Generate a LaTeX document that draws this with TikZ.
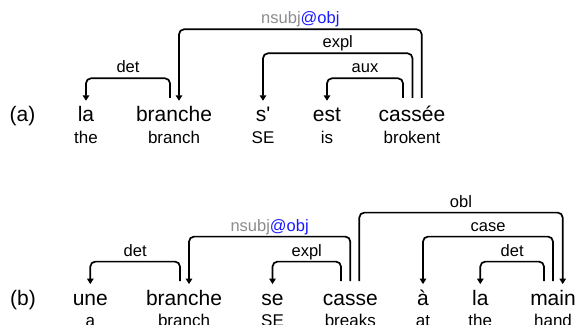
\documentclass[tikz,border=0pt]{standalone}
\usepackage{fontspec}
\setmainfont{Liberation Sans}[Ligatures=TeXOff]
\usetikzlibrary{arrows.meta}
\definecolor{lgray}{RGB}{140,140,140}
\definecolor{lblue}{RGB}{25,25,255}
\begin{document}
\begin{tikzpicture}[x=1pt,y=-1pt,
 word/.style={font=\fontsize{21pt}{21pt}\selectfont, anchor=base, inner xsep=0pt, inner ysep=8.7pt, text height=15pt, text depth=4pt},
 gloss/.style={font=\fontsize{17pt}{17pt}\selectfont, anchor=base, inner sep=0pt},
 lab/.style={font=\fontsize{16.5pt}{16.5pt}\selectfont, anchor=base, inner sep=0pt, yshift=5.5pt},
 dep/.style={line width=1.7pt, rounded corners=5pt, -{Triangle[length=5.5pt,width=6.5pt]}}]
\useasboundingbox (0,0) rectangle (577,324);
% ---------- (a)
\node[word] (pa) at (22.5,121.7) {(a)};
\node[word] (a1) at (86,121.7) {la};
\node[word] (a2) at (174,121.7) {branche};
\node[word] (a3) at (263,121.7) {s'};
\node[word] (a4) at (327,121.7) {est};
\node[word] (a5) at (412,121.7) {cassée};
\node[gloss] (ga1) at (86,143) {the};
\node[gloss] (ga2) at (174,143) {branch};
\node[gloss] (ga3) at (263,143) {SE};
\node[gloss] (ga4) at (327,143) {is};
\node[gloss] (ga5) at (412,143) {brokent};
\coordinate (a2t) at ([xshift=-4pt]a2.north);
\coordinate (a2h) at ([xshift=5pt,yshift=-3pt]a2.north);
\coordinate (a1h) at ([yshift=-3pt]a1.north);
\coordinate (a3h) at ([yshift=-3pt]a3.north);
\coordinate (a4h) at ([yshift=-3pt]a4.north);
\coordinate (a5t1) at ([xshift=-9pt]a5.north);
\coordinate (a5t2) at ([xshift=0.5pt]a5.north);
\coordinate (a5t3) at ([xshift=9.7pt]a5.north);
\draw[dep] (a2t) -- (a2t |- 0,78.3) -- node[lab]{det} (a1h |- 0,78.3) -- (a1h);
\draw[dep] (a5t1) -- (a5t1 |- 0,78.3) -- node[lab]{aux} (a4h |- 0,78.3) -- (a4h);
\draw[dep] (a5t2) -- (a5t2 |- 0,53.3) -- node[lab]{expl} (a3h |- 0,53.3) -- (a3h);
\draw[dep] (a5t3) -- (a5t3 |- 0,29.3) -- node[lab]{\textcolor{lgray}{nsubj}\textcolor{lblue}{@obj}} (a2h |- 0,29.3) -- (a2h);
% ---------- (b)
\node[word] (pb) at (23,305) {(b)};
\node[word] (b1) at (90.3,305) {une};
\node[word] (b2) at (184,305) {branche};
\node[word] (b3) at (272.5,305) {se};
\node[word] (b4) at (350.3,305) {casse};
\node[word] (b5) at (423,305) {à};
\node[word] (b6) at (480.3,305) {la};
\node[word] (b7) at (553,305) {main};
\node[gloss] (gb1) at (90.3,326.3) {a};
\node[gloss] (gb2) at (184,326.3) {branch};
\node[gloss] (gb3) at (272.5,326.3) {SE};
\node[gloss] (gb4) at (350.3,326.3) {breaks};
\node[gloss] (gb5) at (423,326.3) {at};
\node[gloss] (gb6) at (480.3,326.3) {the};
\node[gloss] (gb7) at (553,326.3) {hand};
\coordinate (b2t) at ([xshift=-4pt]b2.north);
\coordinate (b2h) at ([xshift=5pt,yshift=-3pt]b2.north);
\coordinate (b1h) at ([yshift=-3pt]b1.north);
\coordinate (b3h) at ([yshift=-3pt]b3.north);
\coordinate (b4t1) at ([xshift=-9.3pt]b4.north);
\coordinate (b4t2) at ([xshift=0pt]b4.north);
\coordinate (b4t3) at ([xshift=9pt]b4.north);
\coordinate (b5h) at ([yshift=-3pt]b5.north);
\coordinate (b6h) at ([yshift=-3pt]b6.north);
\coordinate (b7t1) at ([xshift=-9pt]b7.north);
\coordinate (b7t2) at ([xshift=0pt]b7.north);
\coordinate (b7h) at ([xshift=9.7pt,yshift=-3pt]b7.north);
\draw[dep] (b2t) -- (b2t |- 0,261.6) -- node[lab]{det} (b1h |- 0,261.6) -- (b1h);
\draw[dep] (b4t1) -- (b4t1 |- 0,261.6) -- node[lab]{expl} (b3h |- 0,261.6) -- (b3h);
\draw[dep] (b4t2) -- (b4t2 |- 0,236.6) -- node[lab]{\textcolor{lgray}{nsubj}\textcolor{lblue}{@obj}} (b2h |- 0,236.6) -- (b2h);
\draw[dep] (b4t3) -- (b4t3 |- 0,212.6) -- node[lab]{obl} (b7h |- 0,212.6) -- (b7h);
\draw[dep] (b7t2) -- (b7t2 |- 0,236.6) -- node[lab]{case} (b5h |- 0,236.6) -- (b5h);
\draw[dep] (b7t1) -- (b7t1 |- 0,261.6) -- node[lab]{det} (b6h |- 0,261.6) -- (b6h);
\end{tikzpicture}
\end{document}
